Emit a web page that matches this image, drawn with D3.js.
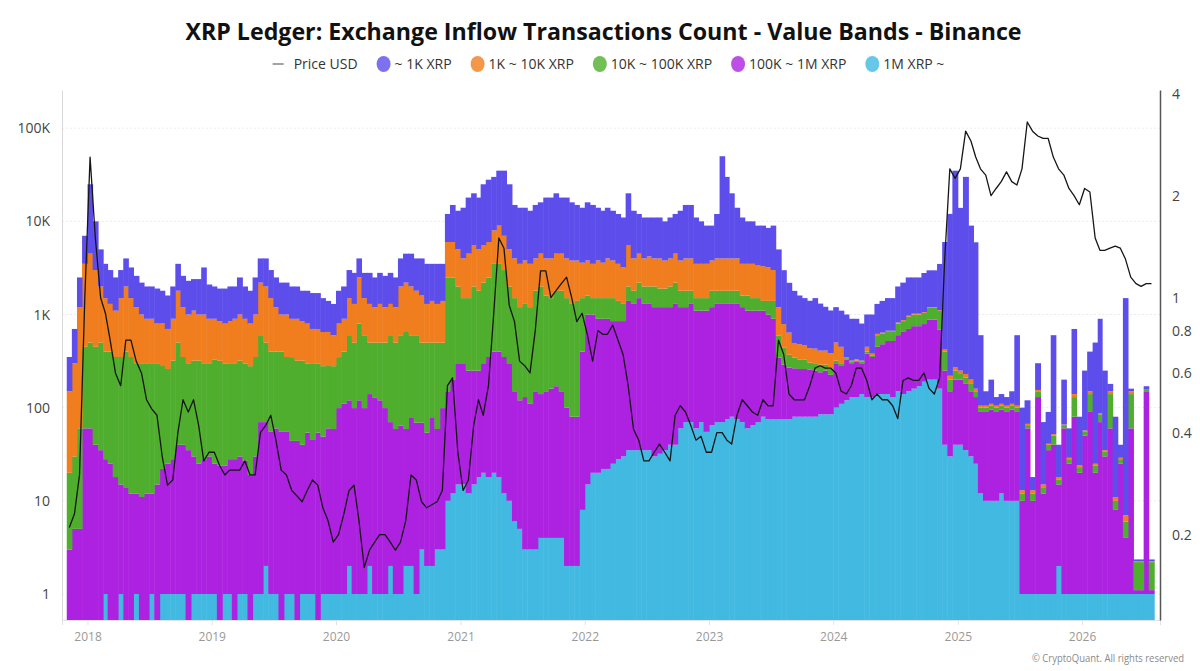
<!DOCTYPE html>
<html>
<head>
<meta charset="utf-8">
<script src="https://cdn.jsdelivr.net/npm/d3@7"></script>
<style>
  body { margin: 0; background: #fff; }
  svg { font-family: "Open Sans", "Noto Sans", sans-serif; }
</style>
</head>
<body>
<svg id="chart" width="1200" height="671"></svg>
<script>
// half-month buckets, Nov 2017 .. Jul 2026 (one row per year)
var m1_plus = [
  0,0,0,0,
  0,0,0,1,0,0,1,0,0,1,0,0,1,0,1,1,1,1,1,0,1,1,1,1,
  1,0,1,1,0,1,1,0,1,1,2,1,1,0,1,1,0,1,1,1,0,1,1,1,
  1,1,2,1,1,1,2,1,1,1,2,1,1,2,2,1,3,2,2,3,3,10,12,15,
  15,12,15,18,20,18,20,18,12,10,6,5,3,3,3,4,4,4,4,4,2,2,2,8,
  15,20,20,22,22,25,28,30,35,35,35,35,35,30,32,35,40,40,60,70,70,60,70,55,
  65,70,70,75,80,75,70,60,65,70,80,75,75,75,75,75,80,80,80,80,80,85,85,85,
  100,110,120,130,130,140,130,130,140,140,140,130,150,140,150,160,170,190,200,200,160,40,30,40,
  40,35,30,25,12,10,10,10,12,10,10,10,1,1,1,1,1,1,1,2,1,1,1,1,
  1,1,1,1,1,1,1,1,1,1,1,1,1,1
]
var k100_1m = [
  3,5,5,60,
  60,40,35,27,25,18,14,14,12,11,11,12,11,15,21,24,27,39,39,35,29,24,27,29,
  24,24,23,27,28,29,26,19,29,69,68,54,59,55,54,43,44,39,53,44,54,48,59,58,
  98,109,118,98,119,98,138,128,119,98,68,58,63,57,77,68,66,52,77,56,96,140,188,285,
  285,238,235,232,280,332,380,382,338,290,144,115,127,107,147,136,146,156,166,146,98,78,78,392,
  985,980,880,878,878,825,822,820,1365,1265,1465,1265,1265,1170,1168,1165,1160,1260,1140,1130,1230,1040,1030,1045,
  1135,1230,1230,1225,1220,1225,1130,1040,1035,1030,1020,925,825,270,215,195,185,180,180,175,170,155,165,140,
  200,170,210,170,180,160,250,220,310,340,380,390,450,510,550,590,580,600,680,680,530,210,120,160,
  160,145,120,105,78,80,85,80,83,80,85,80,9,59,9,129,11,34,39,13,59,24,79,19,
  49,89,19,69,29,59,7,24,3,59,0.1,0.1,149,0.1
]
var k10_100k = [
  17,25,55,390,
  440,410,465,372,375,332,335,386,338,288,289,288,288,285,258,235,292,460,310,265,290,295,272,270,
  305,295,275,272,272,290,272,260,320,530,430,345,340,345,295,305,275,280,245,255,245,230,220,220,
  250,290,480,400,680,500,360,370,380,400,530,440,535,590,520,530,430,445,420,440,400,2350,2300,1700,
  1200,1250,1750,1550,1900,2150,3100,3100,2650,1700,1350,1080,1170,1090,1650,1860,1450,1340,1630,1650,1400,1220,1320,1100,
  600,500,600,600,600,650,550,450,600,500,700,700,700,800,700,700,800,900,600,600,500,400,400,400,
  600,500,500,500,500,500,400,500,400,400,300,400,500,250,150,100,80,70,70,50,50,50,40,40,
  20,20,10,10,10,10,20,10,150,140,130,130,200,200,250,250,250,250,300,300,400,150,50,50,
  30,30,30,20,10,10,10,10,10,10,10,10,2,5,2,20,2,5,10,2,5,3,50,3,
  5,50,4,15,4,80,2,3,2,80,1.1,1.1,5,1.1
]
var k1_10k = [
  130,270,1140,3050,
  4000,2550,1500,1100,900,750,1150,1600,1150,900,700,600,600,500,520,440,580,1300,850,700,780,680,700,600,
  570,530,500,550,600,680,600,520,650,1600,1500,1100,800,600,650,550,580,530,500,400,400,370,370,320,
  450,500,900,800,1700,900,800,700,800,700,700,700,1400,1550,1400,1200,1100,800,900,800,900,3500,3500,3000,
  2500,3000,3500,3200,3300,3500,4500,5500,4000,3000,2500,2300,2500,2300,2200,2500,2400,2500,2700,2700,2500,2500,2400,2100,
  2200,2000,2300,2100,2500,2300,2100,1900,3500,2200,2300,2000,2200,2000,2100,1900,2000,2300,2000,2200,2200,2000,2000,2000,
  2000,2200,2200,2200,2200,2200,1900,1900,2000,1900,1900,1800,1600,600,350,270,150,150,140,130,130,120,120,120,
  180,150,10,10,10,10,50,20,20,20,20,20,20,20,20,20,20,20,20,20,20,20,20,20,
  20,20,20,10,5,5,5,5,5,5,5,5,1,2,1,5,1,1,2,1,1,1,10,1,
  2,10,1,2,1,10,1,1,1,10,0.05,0.05,1,0.05
]
var up_to_1k = [
  200,400,1300,3500,
  20500,7000,3000,2000,1700,1400,1500,2000,1700,1400,1200,1100,1100,1100,1000,900,1100,1700,1400,1300,1300,1400,2200,1200,
  1100,1050,1100,1150,1100,1500,1100,1000,1500,1800,2000,1500,1300,1200,1200,1100,1100,950,1000,1000,1000,850,750,700,
  1000,1100,1500,1500,1500,1300,1500,1300,1500,1400,1500,1300,2000,2300,2500,2200,2400,2200,2100,2200,2100,6000,9000,8000,
  10000,13500,14500,13000,19500,22000,22000,26000,28000,20000,11000,10500,10200,9500,11000,11500,14000,14000,15500,13500,14000,12200,11200,10400,
  12200,11500,10200,9400,10000,9200,8500,7800,14500,9000,7500,7000,6800,7000,7000,6200,7000,7500,9200,11000,11000,7500,6500,5500,
  5200,8000,46000,26000,16000,10000,7500,6500,6500,5600,5700,5300,6000,3800,2200,1550,1300,1120,1030,970,1070,900,800,720,
  700,650,650,580,570,480,550,620,680,760,830,830,1180,1330,1530,1480,1480,1730,1780,1780,2380,5580,11800,34700,
  13700,29800,8800,5800,495,45,90,25,30,25,40,495,87,53,5,145,55,49,548,22,134,31,560,56,
  193,250,475,813,215,30,69,11,1493,10,0.1,0.1,14,0.1
]
var price_usd = [
  0.21,0.23,0.3,1.0,
  2.6,1.5,1.0,0.9,0.75,0.6,0.55,0.75,0.75,0.65,0.6,0.5,0.47,0.45,0.34,0.28,0.29,0.4,0.5,0.46,0.5,0.42,0.33,0.35,
  0.35,0.32,0.3,0.31,0.31,0.31,0.33,0.3,0.3,0.4,0.42,0.45,0.38,0.31,0.3,0.27,0.26,0.25,0.27,0.29,0.28,0.24,0.22,0.19,
  0.2,0.23,0.27,0.28,0.22,0.16,0.18,0.19,0.2,0.2,0.19,0.18,0.19,0.22,0.3,0.29,0.25,0.24,0.245,0.25,0.27,0.55,0.58,0.35,
  0.27,0.29,0.42,0.5,0.45,0.55,0.9,1.5,1.4,0.95,0.85,0.65,0.63,0.6,0.8,1.2,1.2,1.0,1.05,1.1,1.15,1.0,0.85,0.9,
  0.78,0.65,0.8,0.78,0.78,0.83,0.75,0.68,0.55,0.41,0.38,0.33,0.33,0.35,0.37,0.35,0.33,0.45,0.48,0.46,0.42,0.38,0.39,0.35,
  0.35,0.4,0.4,0.38,0.37,0.45,0.5,0.48,0.46,0.45,0.5,0.48,0.48,0.75,0.68,0.52,0.5,0.5,0.5,0.55,0.62,0.63,0.62,0.62,
  0.6,0.53,0.52,0.55,0.62,0.62,0.57,0.5,0.52,0.5,0.5,0.48,0.44,0.57,0.58,0.57,0.57,0.6,0.54,0.52,0.58,1.3,2.4,2.25,
  2.4,3.1,2.9,2.6,2.4,2.3,2.0,2.1,2.2,2.35,2.2,2.15,2.4,3.3,3.1,3.0,2.95,2.95,2.6,2.4,2.3,2.1,2.0,1.88,
  2.1,2.05,1.5,1.38,1.38,1.4,1.42,1.4,1.3,1.15,1.1,1.08,1.1,1.1
]
var count_ticks = [1, 10, 100, 1000, 10000, 100000]
var count_labels = ["1", "10", "100", "1K", "10K", "100K"]
var price_ticks = [0.2, 0.4, 0.6, 0.8, 1, 2, 4]
var year_ticks = [2018, 2019, 2020, 2021, 2022, 2023, 2024, 2025, 2026]

// stacking order, bottom first
var band_keys = ["m1_plus", "k100_1m", "k10_100k", "k1_10k", "up_to_1k"]
var band_color = {m1_plus: "#41b9e1", k100_1m: "#ad22e0", k10_100k: "#4fae2d", k1_10k: "#f07d1e", up_to_1k: "#5d4deb"}
var legend_items = [
  {label: "Price USD", key: "price"},
  {label: "~ 1K XRP", key: "up_to_1k"},
  {label: "1K ~ 10K XRP", key: "k1_10k"},
  {label: "10K ~ 100K XRP", key: "k10_100k"},
  {label: "100K ~ 1M XRP", key: "k100_1m"},
  {label: "1M XRP ~", key: "m1_plus"}
]

var svg = d3.select("#chart")
var plot_left = 62, plot_right = 1160, plot_top = 90, plot_bottom = 620

// period start dates: 1st and 16th of every month
var period_start = []
d3.timeMonth.range(new Date(2017, 10, 1), new Date(2026, 7, 1)).forEach(function(m){
  period_start.push(m)
  period_start.push(new Date(m.getFullYear(), m.getMonth(), 16))
})

var rows = period_start.map(function(d, i){
  return {
    date: d,
    end: i + 1 < period_start.length ? period_start[i + 1] : new Date(2026, 7, 1),
    m1_plus: m1_plus[i], k100_1m: k100_1m[i], k10_100k: k10_100k[i],
    k1_10k: k1_10k[i], up_to_1k: up_to_1k[i], price: price_usd[i]
  }
})

var x = d3.scaleTime().domain([new Date(2017, 9, 18), new Date(2026, 7, 18)]).range([plot_left, plot_right])
var y_min = 0.526
var y = d3.scaleLog().domain([y_min, 257000]).range([plot_bottom, plot_top])
var y_price = d3.scaleLog().domain([0.112, 4.1]).range([plot_bottom, plot_top])
function yc(v){ return y(Math.max(v, y_min)) }

// grid
svg.append("g").selectAll("line")
    .data(count_ticks)
    .enter()
    .append("line")
    .attr("x1", plot_left).attr("x2", plot_right)
    .attr("y1", function(d){ return y(d) }).attr("y2", function(d){ return y(d) })
    .attr("stroke", "#ececec")
    .attr("stroke-dasharray", "2,2")

svg.append("clipPath").attr("id", "plot_clip")
  .append("rect").attr("x", plot_left).attr("y", plot_top)
  .attr("width", plot_right - plot_left).attr("height", plot_bottom - plot_top)

var stacked = d3.stack().keys(band_keys)(rows)
var plot = svg.append("g").attr("clip-path", "url(#plot_clip)")

plot.selectAll(".band")
    .data(stacked)
    .enter()
    .append("g")
    .attr("class", "band")
    .attr("fill", function(d){ return band_color[d.key] })
    .selectAll("rect")
    .data(function(d){ return d })
    .enter()
    .append("rect")
    .attr("x", function(d){ return x(d.data.date) })
    .attr("width", function(d){ return x(d.data.end) - x(d.data.date) + 0.5 })
    .attr("y", function(d){ return yc(d[1]) })
    .attr("height", function(d){ return Math.max(0, yc(d[0]) - yc(d[1])) })

var price_line = d3.line()
    .x(function(d){ return x(new Date((d.date.getTime() + d.end.getTime()) / 2)) })
    .y(function(d){ return y_price(d.price) })

plot.append("path")
    .datum(rows)
    .attr("d", price_line)
    .attr("fill", "none")
    .attr("stroke", "#161616")
    .attr("stroke-width", 1.3)
    .attr("stroke-linejoin", "round")

// axes
var x_axis = svg.append("g")
    .attr("transform", "translate(0," + plot_bottom + ")")
    .call(d3.axisBottom(x)
      .tickValues(year_ticks.map(function(yr){ return new Date(yr, 0, 1) }))
      .tickFormat(d3.timeFormat("%Y"))
      .tickSize(5).tickPadding(7))
x_axis.selectAll("path, line").attr("stroke", "#dfe3e8")
x_axis.selectAll("text").attr("fill", "#999").attr("font-size", 12).attr("font-family", "Open Sans")

var y_axis = svg.append("g")
    .attr("transform", "translate(" + plot_left + ",0)")
    .call(d3.axisLeft(y)
      .tickValues(count_ticks)
      .tickFormat(function(d, i){ return count_labels[i] })
      .tickSize(0).tickPadding(12))
y_axis.select("path").attr("stroke", "#d8d8d8")
y_axis.selectAll("text").attr("fill", "#444").attr("font-size", 14).attr("font-family", "Open Sans")

var p_axis = svg.append("g")
    .attr("transform", "translate(" + plot_right + ",0)")
    .call(d3.axisRight(y_price)
      .tickValues(price_ticks)
      .tickFormat(function(d){ return String(d) })
      .tickSize(0).tickPadding(12))
p_axis.select("path").attr("stroke", "#555").attr("stroke-width", 1.5)
p_axis.selectAll("text").attr("fill", "#444").attr("font-size", 14).attr("font-family", "Open Sans")

// title + legend
svg.append("text")
    .attr("x", 603.5).attr("y", 40)
    .attr("text-anchor", "middle")
    .attr("font-size", 24).attr("font-weight", "bold")
    .attr("fill", "#111")
    .attr("textLength", 836).attr("lengthAdjust", "spacingAndGlyphs")
    .text("XRP Ledger: Exchange Inflow Transactions Count - Value Bands - Binance")

var legend = svg.append("g")
var lx = 0
legend_items.forEach(function(item){
  var g = legend.append("g").attr("transform", "translate(" + lx + ",0)")
  var text_x
  if (item.key === "price") {
    g.append("line").attr("x1", 0).attr("x2", 11).attr("y1", 0).attr("y2", 0)
      .attr("stroke", "#666").attr("stroke-width", 1.2)
    text_x = 21
  } else {
    g.append("ellipse").attr("cx", 7).attr("cy", 0).attr("rx", 7).attr("ry", 8)
      .attr("fill", band_color[item.key]).attr("opacity", 0.8)
    text_x = 18
  }
  var t = g.append("text")
      .attr("x", text_x).attr("y", 0).attr("dy", "0.35em")
      .attr("font-size", 14).attr("fill", "#333")
      .text(item.label)
  lx += text_x + t.node().getComputedTextLength() + 19
})
var legend_width = lx - 19
legend.attr("transform", "translate(" + (608.5 - legend_width / 2) + ",64)")

svg.append("text")
    .attr("x", 1184).attr("y", 662)
    .attr("text-anchor", "end")
    .attr("font-size", 10).attr("fill", "#8a8a8a")
    .attr("textLength", 152).attr("lengthAdjust", "spacingAndGlyphs")
    .text("\u00a9 CryptoQuant. All rights reserved")
</script>
</body>
</html>
